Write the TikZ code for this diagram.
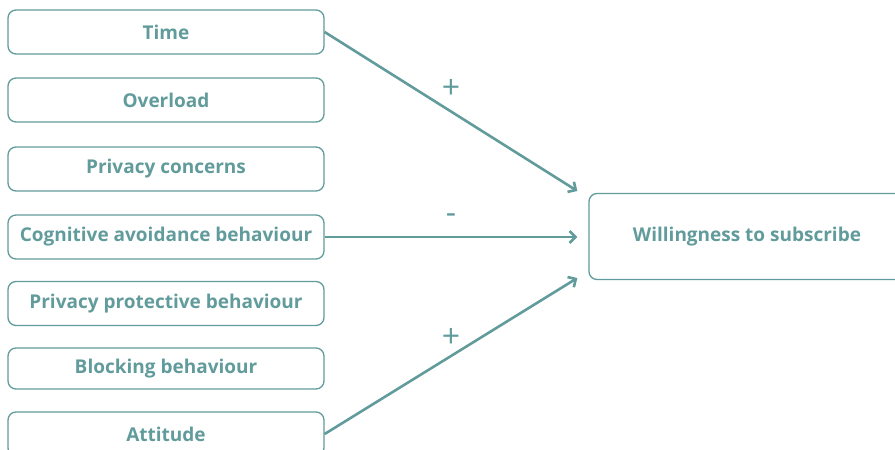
\documentclass[tikz,border=0pt]{standalone}
\usepackage{fontspec}
\setmainfont{Open Sans}
\usetikzlibrary{arrows.meta}

\definecolor{teal}{RGB}{98,155,155}

\tikzset{
    factor/.style={draw=teal, line width=1.3pt, rounded corners=8pt, fill=white,
        minimum width=316pt, minimum height=44pt, inner sep=0pt,
        text=teal, font=\bfseries\fontsize{19}{22}\selectfont},
    effect/.style={draw=teal, line width=2.6pt, -{Straight Barb[length=6pt,width=12pt,line width=2.6pt]}},
    sign/.style={text=teal, font=\fontsize{32}{32}\selectfont}
}

\begin{document}
\begin{tikzpicture}[x=1pt,y=-1pt]
    \useasboundingbox (0,0) rectangle (895,450);
    \clip (0,0) rectangle (895,450);

    \node[factor] (time) at (166,32) {Time};
    \node[factor] (overload) at (166,100) {Overload};
    \node[factor] (privacy) at (166,169) {Privacy concerns};
    \node[factor] (avoid) at (166,237) {Cognitive avoidance behaviour};
    \node[factor] (protect) at (166,303.5) {Privacy protective behaviour};
    \node[factor, minimum height=41pt] (block) at (166,368.5) {Blocking behaviour};
    \node[factor] (attitude) at (166,434) {Attitude};

    \node[factor, minimum height=86pt] (will) at (747,236.5) {Willingness to subscribe};

    \draw[effect](time.east)--([xshift=-11pt,yshift=45.5pt]will.west)
        node[sign, midway, yshift=23pt]{+};
    \draw[effect](avoid.east)--([xshift=-11pt,yshift=0pt]will.west|-avoid.east)
        node[sign, midway, yshift=18pt]{-};
    \draw[effect](attitude.east)--([xshift=-11pt,yshift=-41.5pt]will.west)
        node[sign, midway, yshift=18pt]{+};
\end{tikzpicture}
\end{document}
